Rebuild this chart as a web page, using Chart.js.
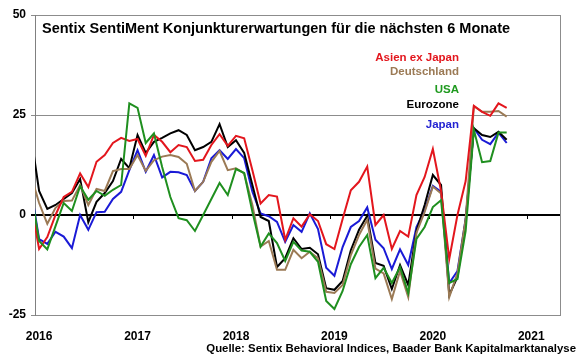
<!DOCTYPE html>
<html>
<head>
<meta charset="utf-8">
<script src="https://cdn.jsdelivr.net/npm/chart.js@4.4.0/dist/chart.umd.min.js"></script>
<style>
  html, body { margin: 0; padding: 0; background: #fff; }
  #wrap { position: relative; width: 580px; height: 359px; font-family: "Liberation Sans", Arial, sans-serif; }
  canvas { position: absolute; left: 0; top: 0; }
  .t { position: absolute; font-weight: bold; white-space: nowrap; }
  #title { left: 42px; top: 20px; font-size: 14.5px; line-height: 16px; color: #000; }
  .lg { right: 121px; font-size: 11.5px; line-height: 14px; text-align: right; }
  #source { right: 4px; top: 341px; font-size: 11.4px; line-height: 14px; color: #000; }
</style>
</head>
<body>
<div id="wrap">
  <canvas id="c" width="580" height="359"></canvas>
  <div class="t" id="title">Sentix SentiMent Konjunkturerwartungen für die nächsten 6 Monate</div>
  <div class="t lg" style="top:50px;color:#e3161d">Asien ex Japan</div>
  <div class="t lg" style="top:64px;color:#9b7a55">Deutschland</div>
  <div class="t lg" style="top:82px;color:#1f9a1f">USA</div>
  <div class="t lg" style="top:97px;color:#000">Eurozone</div>
  <div class="t lg" style="top:117px;color:#2323d2">Japan</div>
  <div class="t" id="source">Quelle: Sentix Behavioral Indices, Baader Bank Kapitalmarktanalyse</div>
</div>
<script>
// Monthly observations, Dec 2015 .. Oct 2020 (first point lies just left of the axis and is clipped)
const firstYear = 2015, firstMonth = 12;
const yearLabels = ["2016", "2017", "2018", "2019", "2020", "2021"];
const yTicks = [-25, 0, 25, 50];

const eurozone = [20,
  6, 1.5, 2.5, 4, 5.5, 9, -1.8, 3.3, 5.5, 8.5, 14, 11.7,
  20, 15.5, 18.3, 19.3, 20.4, 21.2, 20, 16.2, 17, 18.3, 22.7, 17,
  18.7, 15.5, 7.5, -0.5, -1.5, -13, -10.8, -5.8, -8.5, -8.2, -9.8, -18.3,
  -18.7, -16.5, -8.8, -3.7, -0.2, -12, -12.7, -18.5, -12.5, -17.5, -4, 2.5,
  10, 7.5, -20, -15.5, -1.5, 21.7, 20, 19.5, 20.8, 18.8];

const asienExJapan = [3,
  -8.5, -5.5, 0, 4.5, 5.8, 10.4, 7, 13.3, 15, 18, 19.3, 18.5,
  19, 14.8, 20, 18.3, 15.7, 17.5, 17, 13.5, 13.8, 17.5, 20.2, 17.3,
  19.8, 19.2, 11.2, 2.9, 5, 4.6, -6.2, -0.8, -2.9, 0.2, -1.5, -7.3,
  -8.5, -1, 6.2, 8.3, 12.1, -2.5, 0, -8.5, -4, -5.4, 5, 9.5,
  16.5, 6, -11, 0, 8.5, 27.3, 25.8, 24.8, 27.9, 26.8];

const japan = [6.5,
  -6, -7.2, -4.2, -5.4, -8.3, 0, -3.7, 0.7, 0.8, 4, 5.8, 11.2,
  16.2, 10.8, 15, 9.4, 10.8, 10.7, 10, 6, 8.3, 14.2, 16.2, 14,
  16.5, 14.2, 5.8, 0.4, -0.3, -1.7, -6.7, -2.5, -4.2, 0.4, -3.5, -13.2,
  -15.2, -8, -3, -1.5, 1.9, -6.2, -8.3, -13.5, -8.6, -12.5, -3, 1.2,
  7.3, 5.8, -17, -14, -1, 21.7, 18.8, 17.7, 20.6, 18];

const deutschland = [10,
  3, -2.2, 1.8, 3.5, 3.6, 7.5, 2.5, 6.5, 6, 11, 11.5, 11.5,
  15, 11, 13.7, 14.6, 15, 14.5, 12.8, 6, 8.3, 13.3, 16, 11.2,
  11.7, 10.4, 2.5, -7.9, -6.5, -13.7, -13.7, -8.7, -10.8, -9.2, -10.8, -19.2,
  -19.5, -17.5, -10, -5, -1.2, -13.4, -14.6, -21, -14, -20.5, -4.5, 0.8,
  7.1, 5.4, -20.5, -14.5, -1, 27.2, 25.8, 25.8, 26, 24.6];

const usa = [6,
  -6.5, -8.6, -2.8, 3, 1, 7.2, 3.8, 6, 4.8, 6.3, 7.5, 27.9,
  26.8, 18, 20.4, 12, 4.5, -0.8, -1.3, -4, 0, 4, 8, 5,
  11.5, 10.5, 0.8, -7.9, -4.6, -7, -11.5, -6.7, -8.9, -9.2, -11.7, -21.5,
  -23.5, -19, -12.3, -8, -5, -15.8, -13.2, -17, -13, -19.5, -6, -3,
  2, 3.7, -17, -16, -4, 21.3, 13.2, 13.5, 20.6, 20.6];

// x value = months since 1 Jan 2016, observations placed mid-month
function toPoints(arr) {
  return arr.map((v, i) => ({ x: (firstYear - 2016) * 12 + (firstMonth - 1) + i + 0.5, y: v }));
}

const series = [
  { label: "USA", data: usa, color: "#1f8f1f" },
  { label: "Asien ex Japan", data: asienExJapan, color: "#e3161d" },
  { label: "Deutschland", data: deutschland, color: "#9b7a55" },
  { label: "Eurozone", data: eurozone, color: "#000000" },
  { label: "Japan", data: japan, color: "#1a1ad6" }
];

const frame = {
  id: "frame",
  beforeDatasetsDraw(chart) {
    const { ctx, chartArea: a, scales: { x, y } } = chart;
    ctx.save();
    ctx.strokeStyle = "#8c8c8c";
    ctx.lineWidth = 1;
    ctx.beginPath();
    ctx.moveTo(Math.round(a.right) + 0.5, a.top);
    ctx.lineTo(Math.round(a.right) + 0.5, a.bottom);
    ctx.stroke();
    // small tick marks on the zero line at each year start
    const y0 = y.getPixelForValue(0);
    ctx.strokeStyle = "#000";
    ctx.lineWidth = 1;
    for (let n = 1; n < yearLabels.length; n++) {
      const px = Math.round(x.getPixelForValue(n * 12)) + 0.5;
      ctx.beginPath();
      ctx.moveTo(px, y0);
      ctx.lineTo(px, y0 + 4);
      ctx.stroke();
    }
    ctx.restore();
  }
};

new Chart(document.getElementById("c"), {
  type: "line",
  data: {
    datasets: series.map(s => ({
      label: s.label,
      data: toPoints(s.data),
      borderColor: s.color,
      backgroundColor: s.color,
      borderWidth: 2,
      pointRadius: 0,
      tension: 0,
      fill: false
    }))
  },
  options: {
    responsive: false,
    animation: false,
    devicePixelRatio: 1,
    layout: { padding: { top: 15, right: 20, bottom: 0, left: 0 }, autoPadding: false },
    plugins: { legend: { display: false }, tooltip: { enabled: false }, title: { display: false } },
    scales: {
      x: {
        type: "linear",
        min: 0,
        max: 64,
        grid: { display: false },
        border: { display: true, color: "#8c8c8c", width: 1 },
        afterBuildTicks: s => { s.ticks = yearLabels.map((_, i) => ({ value: i * 12 + 0.5 })); },
        ticks: {
          autoSkip: false,
          maxRotation: 0,
          padding: 6,
          color: "#000",
          font: { family: "'Liberation Sans', Arial, sans-serif", size: 12, weight: "bold" },
          callback: (v) => yearLabels[Math.round((v - 0.5) / 12)]
        },
        afterFit: s => { s.height = 44; }
      },
      y: {
        min: -25,
        max: 50,
        afterBuildTicks: s => { s.ticks = yTicks.map(v => ({ value: v })); },
        grid: {
          color: c => (c.tick && c.tick.value === 0 ? "#000" : "#8c8c8c"),
          lineWidth: c => (c.tick && c.tick.value === 0 ? 2 : 1),
          tickLength: 4
        },
        border: { display: true, color: "#808080", width: 1 },
        ticks: {
          padding: 5,
          color: "#000",
          font: { family: "'Liberation Sans', Arial, sans-serif", size: 12, weight: "bold" }
        },
        afterFit: s => { s.width = 35; }
      }
    }
  },
  plugins: [frame]
});
</script>
</body>
</html>
